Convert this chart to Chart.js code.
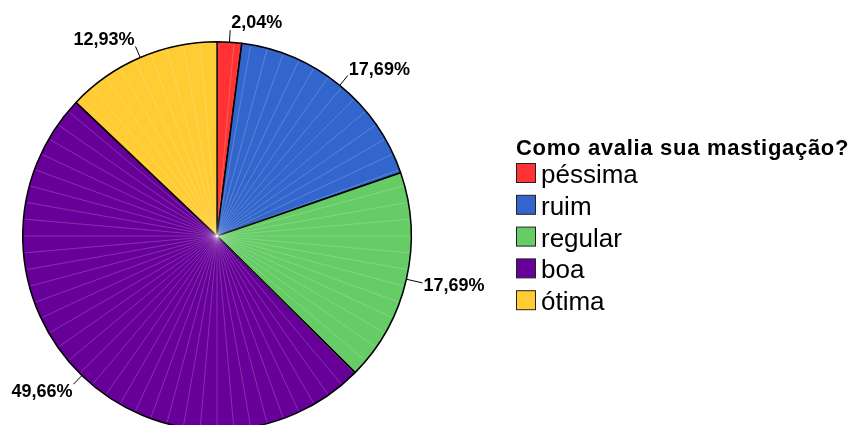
<!DOCTYPE html>
<html>
<head>
<meta charset="utf-8">
<script src="https://cdn.jsdelivr.net/npm/chart.js@4"></script>
<style>
  html, body { margin: 0; padding: 0; background: #fff; }
  #caixa { width: 860px; height: 425px; overflow: hidden; position: relative; }
</style>
</head>
<body>
<div id="caixa">
  <canvas id="grafico_pizza" width="860" height="450"></canvas>
</div>
<script>
const categorias = ['péssima', 'ruim', 'regular', 'boa', 'ótima']
const percentuais = [2.04, 17.69, 17.69, 49.66, 12.93]
const cores = ['#ff3333', '#3366cc', '#66cc66', '#660099', '#ffcc33']
const titulo_legenda = 'Como avalia sua mastigação?'

const fonte = "'Liberation Sans', Arial, sans-serif"

// linhas radiais claras (efeito do SPSS)
const raios = {
    id: 'raios',
    afterDatasetsDraw(chart) {
        const arco = chart.getDatasetMeta(0).data[0]
        const { x, y, outerRadius } = arco.getProps(['x', 'y', 'outerRadius'], true)
        const ctx = chart.ctx
        ctx.save()
        ctx.strokeStyle = 'rgba(255,255,255,0.28)'
        ctx.lineWidth = 0.7
        for (let a = 0; a < 360; a += 5) {
            const ang = a * Math.PI / 180
            ctx.beginPath()
            ctx.moveTo(x, y)
            ctx.lineTo(x + Math.cos(ang) * (outerRadius - 1.5), y + Math.sin(ang) * (outerRadius - 1.5))
            ctx.stroke()
        }
        ctx.restore()
    }
}

// rótulos de porcentagem com linha guia
const rotulos = {
    id: 'rotulos',
    afterDraw(chart) {
        const ctx = chart.ctx
        const meta = chart.getDatasetMeta(0)
        ctx.save()
        ctx.font = 'bold 18px ' + fonte
        ctx.fillStyle = '#000'
        ctx.strokeStyle = '#000'
        ctx.lineWidth = 1
        meta.data.forEach((arco, i) => {
            const { x, y, startAngle, endAngle, outerRadius } = arco.getProps(['x', 'y', 'startAngle', 'endAngle', 'outerRadius'], true)
            const meio = (startAngle + endAngle) / 2
            const cx = Math.cos(meio), cy = Math.sin(meio)
            const guia = 12 + 6 * Math.max(0, cx) * (1 - Math.abs(cy))
            const x1 = x + cx * outerRadius, y1 = y + cy * outerRadius
            const x2 = x + cx * (outerRadius + guia), y2 = y + cy * (outerRadius + guia)
            ctx.beginPath()
            ctx.moveTo(x1, y1)
            ctx.lineTo(x2, y2)
            ctx.stroke()
            const texto = percentuais[i].toFixed(2).replace('.', ',') + '%'
            const w = ctx.measureText(texto).width
            const lado = cx >= 0 ? 1 : -1
            const tx = x2 + lado * (w / 2 + 1)
            const ty = y2 + cy * 9
            ctx.textAlign = 'center'
            ctx.textBaseline = 'alphabetic'
            ctx.fillText(texto, tx, ty + 6.5)
        })
        ctx.restore()
    }
}

// legenda desenhada à direita
const legenda = {
    id: 'legenda',
    afterDraw(chart) {
        const ctx = chart.ctx
        ctx.save()
        ctx.fillStyle = '#000'
        ctx.textAlign = 'left'
        ctx.textBaseline = 'alphabetic'
        ctx.font = 'bold 22px ' + fonte
        if ('letterSpacing' in ctx) ctx.letterSpacing = '0.7px'
        ctx.fillText(titulo_legenda, 516, 155)
        if ('letterSpacing' in ctx) ctx.letterSpacing = '0px'
        ctx.font = '26px ' + fonte
        categorias.forEach((cat, i) => {
            const base = 183 + i * 31.8
            ctx.fillStyle = cores[i]
            ctx.fillRect(516.5, base - 19.5, 19, 19)
            ctx.strokeStyle = '#222'
            ctx.lineWidth = 1
            ctx.strokeRect(516.5, base - 19.5, 19, 19)
            ctx.fillStyle = '#000'
            ctx.fillText(cat, 541, base)
        })
        ctx.restore()
    }
}

const grafico = document.querySelector('#grafico_pizza')

const data = {
    labels: categorias,
    datasets: [
        {
            data: percentuais,
            backgroundColor: cores,
            borderColor: '#000',
            borderWidth: 1.5
        }
    ]
}

const config = {
    type: 'pie',
    data: data,
    options: {
        responsive: false,
        animation: false,
        devicePixelRatio: 1,
        layout: { padding: { left: 22, top: 41, right: 448, bottom: 19 } },
        plugins: {
            legend: { display: false },
            tooltip: { enabled: false }
        }
    },
    plugins: [raios, rotulos, legenda]
}

const meuGrafico = new Chart(grafico, config)
</script>
</body>
</html>
